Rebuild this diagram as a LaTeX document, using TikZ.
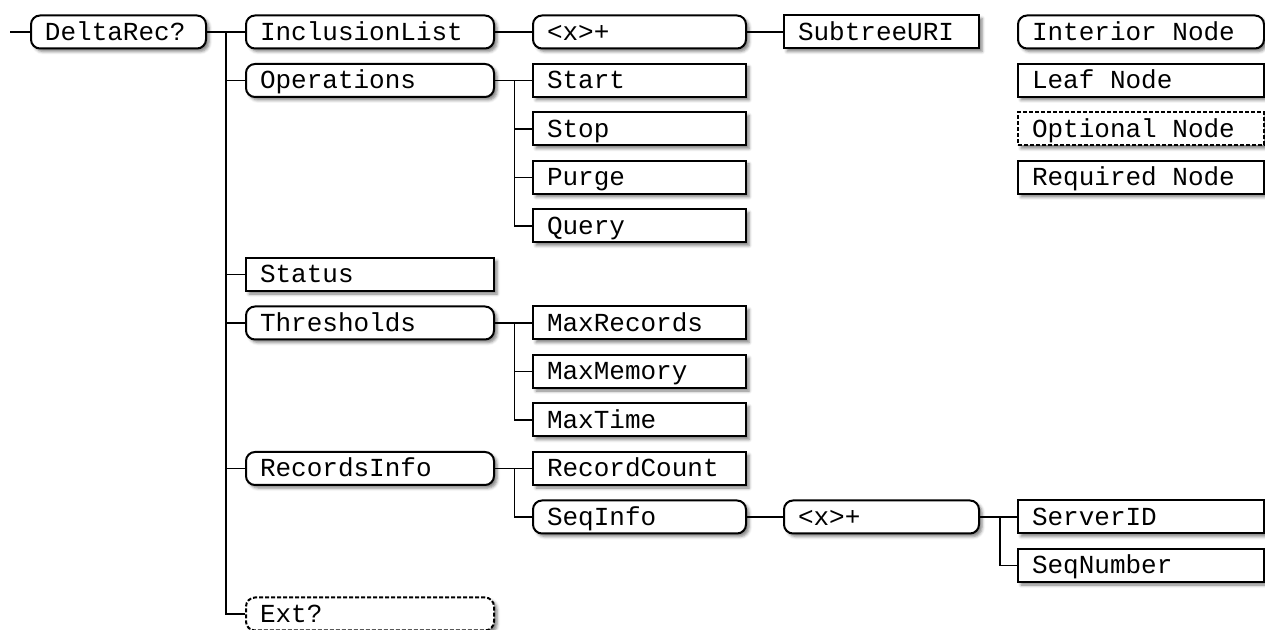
\documentclass[tikz,border=0pt]{standalone}
\usepackage{fontspec}
\setmonofont{Liberation Mono}
\usetikzlibrary{shadows.blur}
\newcommand\treefont{\ttfamily\fontsize{13}{15}\selectfont
	\fontdimen2\font=7.8pt\relax\fontdimen3\font=0pt\relax\fontdimen4\font=0pt\relax}

\begin{document}
\begin{tikzpicture}[x=0.5pt, y=-0.5pt, font=\treefont]
	\tikzstyle{box}=[rectangle, draw=black, line width=1pt, fill=white, anchor=west, inner xsep=7pt, inner ysep=0pt, minimum height=16.5pt, text height=8.5pt, text depth=0pt, execute at begin node={\spaceskip=7.8pt\relax}, blur shadow={shadow xshift=1.5pt, shadow yshift=-1.5pt, shadow blur radius=1.5pt, shadow opacity=50}]
	\tikzstyle{leaf}=[box]
	\tikzstyle{interior}=[box, rounded corners=4.5pt]
	\tikzstyle{opt}=[dash pattern=on 2pt off 1pt]
	\tikzstyle{w0}=[text width=73.5pt]
	\tikzstyle{w1}=[text width=110pt]
	\tikzstyle{w2}=[text width=92.5pt]
	\tikzstyle{w3}=[text width=83.5pt]
	\tikzstyle{w4}=[text width=109pt]
	\tikzstyle{wire}=[line width=0.9pt]
	\useasboundingbox (0, 0) rectangle (1265, 630);

	\draw node[interior, w0] at (30, 32) (root) {DeltaRec?};

	\draw node[interior, w1] at (245, 32) (incl) {InclusionList};
	\draw node[interior, w1] at (245, 80.5) (ops) {Operations};
	\draw node[leaf, w1] at (245, 274.5) (status) {Status};
	\draw node[interior, w1] at (245, 323) (thr) {Thresholds};
	\draw node[interior, w1] at (245, 468.5) (recinfo) {RecordsInfo};
	\draw node[interior, w1, opt] at (245, 614) (ext) {Ext?};

	\draw node[interior, w2] at (532, 32) (list1) {<x>+};
	\draw node[leaf, w2] at (532, 80.5) (start) {Start};
	\draw node[leaf, w2] at (532, 129) (stop) {Stop};
	\draw node[leaf, w2] at (532, 177.5) (purge) {Purge};
	\draw node[leaf, w2] at (532, 226) (query) {Query};
	\draw node[leaf, w2] at (532, 323) (maxrec) {MaxRecords};
	\draw node[leaf, w2] at (532, 371.5) (maxmem) {MaxMemory};
	\draw node[leaf, w2] at (532, 420) (maxtime) {MaxTime};
	\draw node[leaf, w2] at (532, 468.5) (count) {RecordCount};
	\draw node[interior, w2] at (532, 517) (seqinfo) {SeqInfo};

	\draw node[leaf, w3] at (783, 32) (subtree) {SubtreeURI};
	\draw node[interior, w3] at (783, 517) (list2) {<x>+};

	\draw node[leaf, w4] at (1017, 517) (server) {ServerID};
	\draw node[leaf, w4] at (1017, 565.5) (seqnum) {SeqNumber};

	% legend
	\draw node[interior, w4] at (1017, 32) (keyint) {Interior Node};
	\draw node[leaf, w4] at (1017, 80.5) (keyleaf) {Leaf Node};
	\draw node[leaf, w4, opt] at (1017, 129) (keyopt) {Optional Node};
	\draw node[leaf, w4] at (1017, 177.5) (keyreq) {Required Node};

	\coordinate (in) at (10, 32);
	\coordinate (trunk) at (226, 32);
	\draw [wire] (in) -- (root);
	\foreach \c in {incl, ops, status, thr, recinfo, ext}
		\draw [wire] (root.east) -- (trunk) |- (\c.west);
	\draw [wire] (incl) -- (list1);
	\draw [wire] (list1) -- (subtree);
	\foreach \c in {start, stop, purge, query}
		\draw [wire] (ops.east) -- ++(19.5, 0) |- (\c.west);
	\foreach \c in {maxrec, maxmem, maxtime}
		\draw [wire] (thr.east) -- ++(19.5, 0) |- (\c.west);
	\foreach \c in {count, seqinfo}
		\draw [wire] (recinfo.east) -- ++(19.5, 0) |- (\c.west);
	\draw [wire] (seqinfo) -- (list2);
	\foreach \c in {server, seqnum}
		\draw [wire] (list2.east) -- ++(20, 0) |- (\c.west);
\end{tikzpicture}
\end{document}
